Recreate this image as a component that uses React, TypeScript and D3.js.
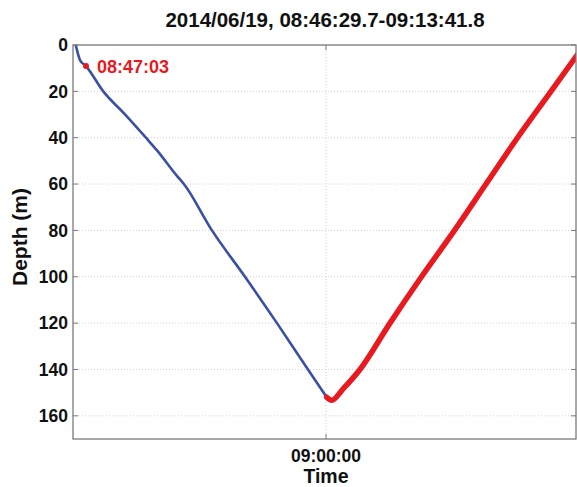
import React from 'react';
import * as d3 from 'd3';

// descent (blue) and ascent (red) profile, times on 2014/06/19
const downTimes = [
  '08:46:29.7', '08:46:32.3', '08:46:38.0', '08:46:43.6', '08:47:03.0', '08:47:59.0',
  '08:49:10.0', '08:50:17.2', '08:50:53.0', '08:51:57.6', '08:52:20.0', '08:53:50.9',
  '08:55:37.8', '08:57:21.4', '08:59:01.7', '09:00:02.3',
];
const downDepths = [0, 1.3, 4.3, 6.5, 9.1, 20, 30, 40, 45.5, 56.5, 60, 80, 100, 120, 140, 152];

const upTimes = [
  '09:00:02.3', '09:00:18.5', '09:00:56.0', '09:01:50.0', '09:03:27.2', '09:05:09.2',
  '09:06:56.0', '09:08:38.0', '09:10:20.0', '09:12:08.4', '09:13:29.4', '09:13:41.8',
];
const upDepths = [152, 153.3, 148.3, 140, 120, 100, 80, 60, 40, 20, 5, 2.7];

const markTime = '08:47:03';
const markDepth = 9.1;

const depthTicks = [0, 20, 40, 60, 80, 100, 120, 140, 160];
const timeTicks = ['09:00:00'];
const xDomain = ['08:46:21.0', '09:13:29.4'];
const yDomain = [0, 170];

const title = '2014/06/19, 08:46:29.7-09:13:41.8';

const toDate = (s: string) => {
  const [h, m, sec] = s.split(':').map(Number);
  return new Date(Date.UTC(2014, 5, 19, h, m, 0, Math.round(sec * 1000)));
};

const W = 577;
const H = 487;
const margin = { top: 45, right: 1, bottom: 48, left: 73 };
const font = '"Liberation Sans", Arial, sans-serif';

export default function App() {
  const innerW = W - margin.left - margin.right;
  const innerH = H - margin.top - margin.bottom;

  const x = d3.scaleUtc().domain(xDomain.map(toDate)).range([0, innerW]);
  const y = d3.scaleLinear().domain(yDomain).range([0, innerH]);

  const line = d3
    .line<[Date, number]>()
    .x(d => x(d[0]))
    .y(d => y(d[1]))
    .curve(d3.curveMonotoneX);

  const down = downTimes.map((t, i) => [toDate(t), downDepths[i]] as [Date, number]);
  const up = upTimes.map((t, i) => [toDate(t), upDepths[i]] as [Date, number]);
  const fmt = d3.utcFormat('%H:%M:%S');
  const axisColor = '#7a7a7a';

  return (
    <div style={{ position: 'absolute', left: 0, top: 0 }}>
      <svg width={W} height={H} style={{ display: 'block', background: '#fff' }}>
        <defs>
          <clipPath id="plot">
            <rect x={0} y={0} width={innerW} height={innerH} />
          </clipPath>
        </defs>
        <text
          x={325}
          y={27}
          textAnchor="middle"
          fontFamily={font}
          fontWeight="bold"
          fontSize={20.5}
          fill="#111"
        >
          {title}
        </text>
        <g transform={`translate(${margin.left},${margin.top})`}>
          {/* grid */}
          {depthTicks.map(d => (
            <line
              key={'gy' + d}
              x1={0}
              x2={innerW}
              y1={y(d)}
              y2={y(d)}
              stroke="#d0d0d0"
              strokeWidth={1}
              strokeDasharray="1,2"
            />
          ))}
          {timeTicks.map(t => (
            <line
              key={'gx' + t}
              x1={x(toDate(t))}
              x2={x(toDate(t))}
              y1={0}
              y2={innerH}
              stroke="#d0d0d0"
              strokeWidth={1}
              strokeDasharray="1,2"
            />
          ))}

          {/* profile */}
          <g clipPath="url(#plot)">
            <path
              d={line(down) ?? ''}
              fill="none"
              stroke="#3a4fa6"
              strokeWidth={2.6}
              strokeLinejoin="round"
              strokeLinecap="round"
            />
            <path
              d={line(up) ?? ''}
              fill="none"
              stroke="#e8191f"
              strokeWidth={5.5}
              strokeLinejoin="round"
              strokeLinecap="round"
            />
          </g>
          <circle cx={x(toDate(markTime))} cy={y(markDepth)} r={3} fill="#e8191f" />
          <text
            x={x(toDate(markTime)) + 11}
            y={y(markDepth) + 6.5}
            fontFamily={font}
            fontWeight="bold"
            fontSize={18}
            fill="#e8191f"
          >
            {markTime}
          </text>

          {/* frame and ticks */}
          <rect x={0} y={0} width={innerW} height={innerH} fill="none" stroke={axisColor} strokeWidth={1.3} />
          {depthTicks.map(d => (
            <g key={'ty' + d}>
              <line x1={0} x2={5} y1={y(d)} y2={y(d)} stroke={axisColor} />
              <line x1={innerW - 5} x2={innerW} y1={y(d)} y2={y(d)} stroke={axisColor} />
              <text
                x={-5}
                y={y(d)}
                dy="0.36em"
                textAnchor="end"
                fontFamily={font}
                fontWeight="bold"
                fontSize={17.5}
                fill="#111"
              >
                {d}
              </text>
            </g>
          ))}
          {timeTicks.map(t => (
            <g key={'tx' + t}>
              <line x1={x(toDate(t))} x2={x(toDate(t))} y1={innerH} y2={innerH - 5} stroke={axisColor} />
              <line x1={x(toDate(t))} x2={x(toDate(t))} y1={0} y2={5} stroke={axisColor} />
              <text
                x={x(toDate(t))}
                y={innerH + 23}
                textAnchor="middle"
                fontFamily={font}
                fontWeight="bold"
                fontSize={17.5}
                fill="#111"
              >
                {fmt(toDate(t))}
              </text>
            </g>
          ))}
          <text
            x={x(toDate(timeTicks[0]))}
            y={innerH + 44}
            textAnchor="middle"
            fontFamily={font}
            fontWeight="bold"
            fontSize={19.5}
            fill="#111"
          >
            Time
          </text>
          <text
            transform={`translate(${27 - margin.left},${237 - margin.top}) rotate(-90)`}
            textAnchor="middle"
            fontFamily={font}
            fontWeight="bold"
            fontSize={21}
            fill="#111"
          >
            Depth (m)
          </text>
        </g>
      </svg>
    </div>
  );
}
